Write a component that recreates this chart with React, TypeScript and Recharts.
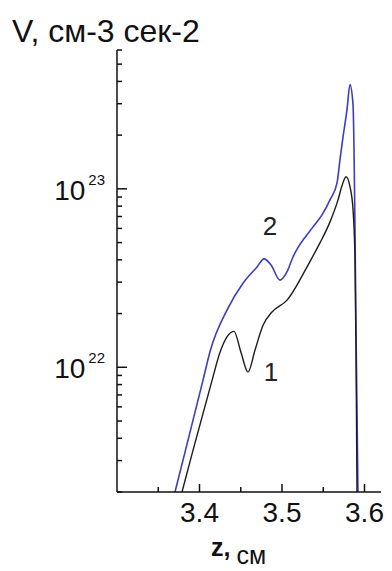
import { LineChart, Line, XAxis, YAxis, ReferenceDot } from "recharts";

const FONT = "'Liberation Sans', Arial, sans-serif";
const BLUE = "#3c3cc4";
const DARK = "#1c1c1c";

// кривая 1 (тёмная)
const z1 = [3.3788, 3.3921, 3.4152, 3.4248, 3.4333, 3.4418, 3.4503, 3.4588, 3.4673, 3.477, 3.4879, 3.5061, 3.5315, 3.546, 3.5582, 3.5679, 3.5727, 3.5776, 3.5824, 3.5861, 3.5885, 3.5897, 3.5909];
const v1 = [2.0e21, 3.42e21, 8.45e21, 1.21e22, 1.48e22, 1.59e22, 1.21e22, 9.4e21, 1.25e22, 1.72e22, 2.04e22, 2.38e22, 3.74e22, 4.98e22, 6.53e22, 8.67e22, 1.04e23, 1.17e23, 1.03e23, 7.63e22, 3.99e22, 1.25e22, 2.0e21];

// кривая 2 (синяя)
const z2 = [3.3703, 3.383, 3.4042, 3.4133, 3.4333, 3.4527, 3.4697, 3.4782, 3.4867, 3.4976, 3.506, 3.5133, 3.5376, 3.5485, 3.5582, 3.5667, 3.5703, 3.574, 3.5788, 3.5824, 3.5861, 3.5873, 3.5885, 3.5897, 3.5921];
const v2 = [2.0e21, 3.42e21, 8.45e21, 1.25e22, 2.09e22, 2.96e22, 3.65e22, 4.05e22, 3.74e22, 3.08e22, 3.42e22, 4.15e22, 6.12e22, 7.14e22, 8.67e22, 1.08e23, 1.46e23, 1.96e23, 2.78e23, 3.84e23, 2.96e23, 1.66e23, 5.89e22, 1.61e22, 2.0e21];

const xTicks = [3.35, 3.4, 3.45, 3.5, 3.55, 3.6];
const xLabels = ["", "3.4", "", "3.5", "", "3.6"];
const yTicks = [
  2e21, 3e21, 4e21, 5e21, 6e21, 7e21, 8e21, 9e21,
  1e22, 2e22, 3e22, 4e22, 5e22, 6e22, 7e22, 8e22, 9e22,
  1e23, 2e23, 3e23, 4e23, 5e23, 6e23,
];
const yMajors = [1e22, 1e23];
const yExp = ["22", "23"];

const serie1 = z1.map((z, i) => ({ z, v: v1[i] }));
const serie2 = z2.map((z, i) => ({ z, v: v2[i] }));

function YTick(props: any) {
  const { x, y, payload } = props;
  const mi = yMajors.findIndex((m) => Math.abs(m - payload.value) / m < 1e-6);
  const major = mi >= 0;
  return (
    <g>
      <line x1={x} x2={x + (major ? 10 : 5)} y1={y} y2={y} stroke="#111" strokeWidth={1.5} />
      {major && (
        <text x={x - 12} y={y + 11} textAnchor="end" fontSize={28} fill="#111" fontFamily={FONT}>
          10
          <tspan dx={3} dy={-15} fontSize={15}>
            {yExp[mi]}
          </tspan>
        </text>
      )}
    </g>
  );
}

function XTick(props: any) {
  const { x, y, index } = props;
  const lbl = xLabels[index] ?? "";
  return (
    <g>
      <line x1={x} x2={x} y1={y} y2={y - (lbl ? 8 : 5)} stroke="#111" strokeWidth={1.5} />
      {lbl && (
        <text x={x} y={y + 30} textAnchor="middle" fontSize={28} fill="#111" fontFamily={FONT}>
          {lbl}
        </text>
      )}
    </g>
  );
}

export default function App() {
  return (
    <div style={{ position: "absolute", left: 0, top: 0, width: 392, height: 571, background: "#fff" }}>
      <LineChart width={392} height={571} margin={{ top: 50, right: 11, bottom: 0, left: 0 }}>
        <XAxis
          type="number"
          dataKey="z"
          domain={[3.3, 3.62]}
          ticks={xTicks}
          interval={0}
          allowDataOverflow
          height={79}
          tickSize={0}
          tickMargin={0}
          tickLine={false}
          tick={<XTick />}
          axisLine={{ stroke: "#111", strokeWidth: 1.5 }}
        />
        <YAxis
          type="number"
          scale="log"
          dataKey="v"
          domain={[2e21, 6e23]}
          ticks={yTicks}
          interval={0}
          allowDataOverflow
          width={117}
          tickSize={0}
          tickMargin={0}
          tickLine={false}
          tick={<YTick />}
          axisLine={{ stroke: "#111", strokeWidth: 1.5 }}
        />
        <Line
          data={serie2}
          dataKey="v"
          type="monotone"
          stroke={BLUE}
          strokeWidth={1.6}
          dot={false}
          isAnimationActive={false}
        />
        <Line
          data={serie1}
          dataKey="v"
          type="monotone"
          stroke={DARK}
          strokeWidth={1.4}
          dot={false}
          isAnimationActive={false}
        />
        <ReferenceDot
          x={3.4855}
          y={6.2e22}
          r={0}
          fillOpacity={0}
          strokeOpacity={0}
          label={{ value: "2", position: "center", fontSize: 26, fill: "#222", fontFamily: FONT }}
        />
        <ReferenceDot
          x={3.4867}
          y={9.4e21}
          r={0}
          fillOpacity={0}
          strokeOpacity={0}
          label={{ value: "1", position: "center", fontSize: 26, fill: "#222", fontFamily: FONT }}
        />
        <text x={12} y={42} fontSize={32} fill="#111" fontFamily={FONT}>
          V, см-3 сек-2
        </text>
        <text x={211} y={556} fontSize={25} fill="#111" fontFamily={FONT} fontWeight="bold">
          z,
          <tspan dx={6} dy={8} fontSize={25} fontWeight="normal">
            см
          </tspan>
        </text>
      </LineChart>
    </div>
  );
}
